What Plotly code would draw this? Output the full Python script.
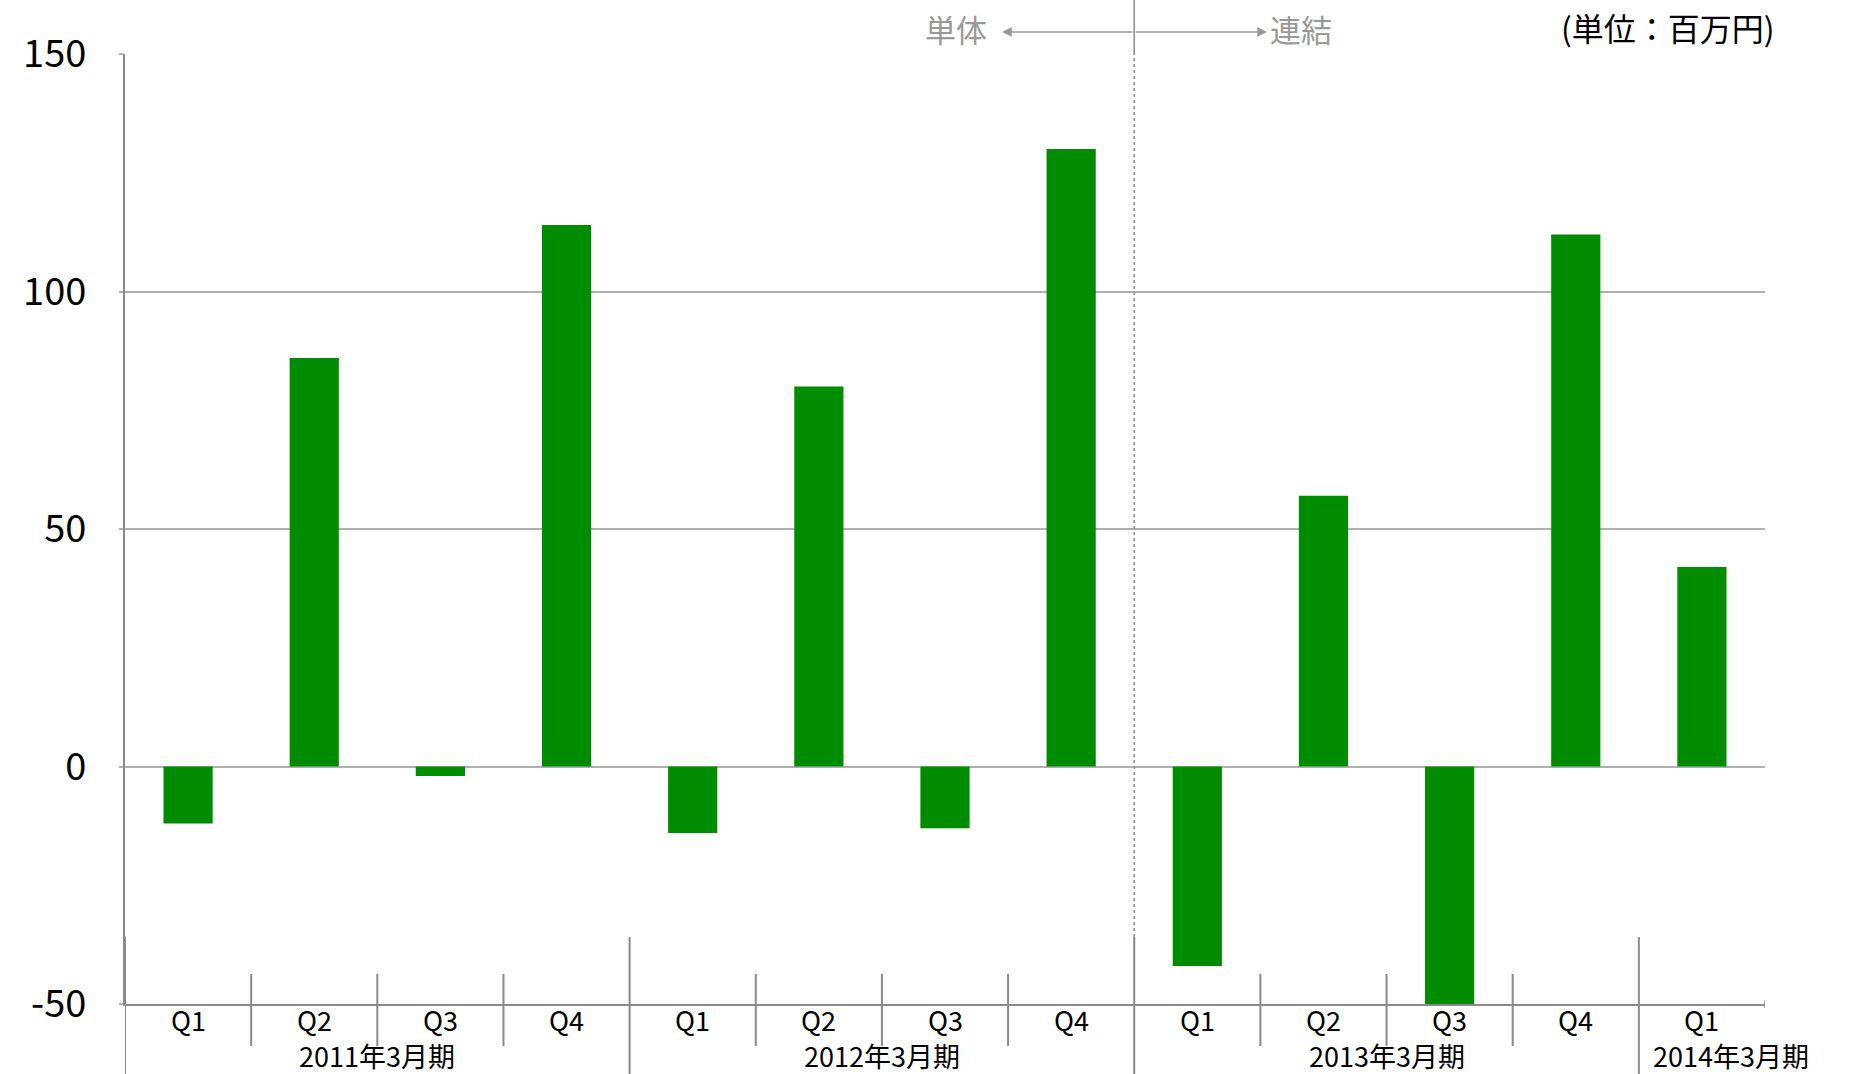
import plotly.graph_objects as go

quarters = ["Q1", "Q2", "Q3", "Q4", "Q1", "Q2", "Q3", "Q4", "Q1", "Q2", "Q3", "Q4", "Q1"]
fiscal_years = ["2011年3月期"] * 4 + ["2012年3月期"] * 4 + ["2013年3月期"] * 4 + ["2014年3月期"]
values = [-12, 86, -2, 114, -14, 80, -13, 130, -42, 57, -50, 112, 42]
y_ticks = [-50, 0, 50, 100, 150]

FONT = "Noto Sans CJK JP"
GREEN = "#008C00"
AXIS = "#8a8a8a"
GRID = "#b0b0b0"
GRAYTXT = "#999999"

x = list(range(len(values)))

fig = go.Figure()
fig.add_trace(go.Bar(x=x, y=values, width=0.39, marker=dict(color=GREEN, line=dict(width=0)),
                     hoverinfo="y", showlegend=False))

shapes = []
annotations = []

# quarter labels
for i, q in enumerate(quarters):
    annotations.append(dict(x=i, y=-0.0168, xref="x", yref="paper", text=q, showarrow=False,
                            font=dict(family=FONT, size=27, color="black"),
                            xanchor="center", yanchor="middle"))

# group fiscal years
groups = []
start = 0
for i in range(1, len(fiscal_years) + 1):
    if i == len(fiscal_years) or fiscal_years[i] != fiscal_years[start]:
        groups.append((fiscal_years[start], start, i - 1))
        start = i

for name, s, e in groups:
    if e > s:
        annotations.append(dict(x=(s + e) / 2, y=-0.0547, xref="x", yref="paper", text=name,
                                showarrow=False, font=dict(family=FONT, size=27, color="black"),
                                xanchor="center", yanchor="middle"))
    else:
        annotations.append(dict(x=s - 0.5, y=-0.0547, xref="x", yref="paper", text=name,
                                showarrow=False, xshift=12,
                                font=dict(family=FONT, size=27, color="black"),
                                xanchor="left", yanchor="middle"))

# separators
for i in range(len(fiscal_years)):
    pos = i - 0.5
    if i == 0 or fiscal_years[i] != fiscal_years[i - 1]:
        shapes.append(dict(type="line", xref="x", yref="paper", x0=pos, x1=pos, y0=0.0705, y1=-0.08,
                           line=dict(color=AXIS, width=2)))
    else:
        shapes.append(dict(type="line", xref="x", yref="paper", x0=pos, x1=pos, y0=0.0316, y1=-0.0442,
                           line=dict(color=AXIS, width=2)))
# small end tick of the axis
end = len(fiscal_years) - 0.5
shapes.append(dict(type="line", xref="x", yref="paper", x0=end, x1=end, y0=0.004, y1=-0.004,
                   line=dict(color=AXIS, width=1.5)))

# 単体 / 連結 boundary
boundary = 7.5
shapes.append(dict(type="line", xref="x", yref="paper", x0=boundary, x1=boundary, y0=0.0705, y1=1.0,
                   line=dict(color=AXIS, width=1.5, dash="3px,3px")))
shapes.append(dict(type="line", xref="x", yref="paper", x0=boundary, x1=boundary, y0=1.0, y1=1.06,
                   line=dict(color=AXIS, width=1.5)))

arrow_y = 1.0232
annotations.append(dict(x=6.452, y=arrow_y, xref="x", yref="paper", ax=boundary, ay=0,
                        axref="x", ayref="pixel", text="", showarrow=True, arrowhead=2,
                        arrowsize=1.3, arrowwidth=1.5, arrowcolor=GRAYTXT))
annotations.append(dict(x=8.553, y=arrow_y, xref="x", yref="paper", ax=boundary, ay=0,
                        axref="x", ayref="pixel", text="", showarrow=True, arrowhead=2,
                        arrowsize=1.3, arrowwidth=1.5, arrowcolor=GRAYTXT))
annotations.append(dict(x=6.087, y=1.0265, xref="x", yref="paper", text="単体", showarrow=False,
                        font=dict(family=FONT, size=31, color=GRAYTXT), xanchor="center", yanchor="middle"))
annotations.append(dict(x=8.822, y=1.0265, xref="x", yref="paper", text="連結", showarrow=False,
                        font=dict(family=FONT, size=31, color=GRAYTXT), xanchor="center", yanchor="middle"))
annotations.append(dict(x=1.0073, y=1.0284, xref="paper", yref="paper", text="(単位：百万円)",
                        showarrow=False, font=dict(family=FONT, size=32, color="black"),
                        xanchor="right", yanchor="middle"))

fig.update_layout(
    width=1849, height=1074,
    margin=dict(l=125, r=84, t=54, b=70),
    paper_bgcolor="white", plot_bgcolor="white",
    bargap=0.61,
    xaxis=dict(range=[-0.5, len(values) - 0.5], showgrid=False, zeroline=False,
               showticklabels=False, ticks="", showline=True, linecolor=AXIS, linewidth=2),
    yaxis=dict(range=[-50, 150], tickvals=y_ticks, ticktext=[str(v) for v in y_ticks],
               showgrid=True, gridcolor=GRID, gridwidth=2, zeroline=False,
               showline=True, linecolor=AXIS, linewidth=2,
               ticks="outside", ticklen=4, tickcolor=GRID, tickwidth=2,
               ticklabelstandoff=25,
               tickfont=dict(family=FONT, size=38, color="black")),
    shapes=shapes,
    annotations=annotations,
    font=dict(family=FONT),
)

fig.write_html("out.html")
